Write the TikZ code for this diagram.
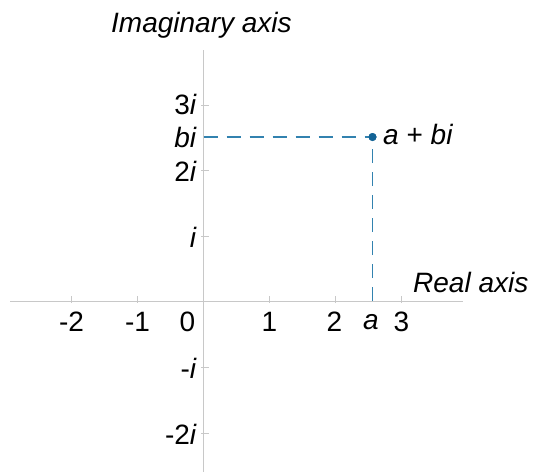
\documentclass[tikz,border=0pt]{standalone}
\usepackage{fontspec}
\setmainfont{Liberation Sans}
\definecolor{axisgray}{RGB}{200,200,200}
\definecolor{dashblue}{RGB}{50,130,175}
\definecolor{dotblue}{RGB}{20,100,150}
\begin{document}
\begin{tikzpicture}[x=1pt,y=-1pt,
  axisline/.style={draw=axisgray,line width=1pt},
  tickmark/.style={draw=axisgray,line width=0.8pt},
  lbl/.style={font=\fontsize{28}{28}\selectfont,inner sep=0pt},
  guide/.style={draw=dashblue,line width=1.3pt,dash pattern=on 14pt off 9pt}]
\useasboundingbox (0,0) rectangle (534,474);
% axes
\coordinate (xl) at (10,301);
\coordinate (xr) at (463,301);
\coordinate (yt) at (203.5,50);
\coordinate (yb) at (203.5,472);
\draw[axisline] (xl) -- (xr);
\draw[axisline] (yt) -- (yb);
% ticks on real axis
\foreach \x in {71.5,137.5,269.5,335.5,401.5}{
  \draw[tickmark] (\x,296) -- (\x,303);
}
% ticks on imaginary axis
\foreach \y in {105,170,236,367,433}{
  \draw[tickmark] (201,\y) -- (209,\y);
}
% real labels
\node[lbl] (lm2) at (71.5,322) {-2};
\node[lbl] (lm1) at (137.5,322) {-1};
\node[lbl] (l0) at (187.5,322) {0};
\node[lbl] (l1) at (269.5,322) {1};
\node[lbl] (l2) at (334.5,322) {2};
\node[lbl] (la) at (371,322) {\itshape a};
\node[lbl] (l3) at (401.5,322) {3};
% imaginary labels
\node[lbl,anchor=east] (i3) at (197,104) {3\textit{i}};
\node[lbl,anchor=east] (ib) at (197,137) {\textit{bi}};
\node[lbl,anchor=east] (i2) at (197,171) {2\textit{i}};
\node[lbl,anchor=east] (i1) at (197,237) {\textit{i}};
\node[lbl,anchor=east] (im1) at (197,368) {-\textit{i}};
\node[lbl,anchor=east] (im2) at (197,434) {-2\textit{i}};
% axis titles
\node[lbl,anchor=west] (imag) at (111,25) {\itshape Imaginary axis};
\node[lbl,anchor=west] (real) at (413,282) {\itshape Real axis};
% point
\coordinate (yb0) at (203.5,137);
\coordinate (xa0) at (372.5,301);
\node[circle,fill=dotblue,inner sep=0pt,minimum size=8pt] (pt) at (372.5,137) {};
\draw[guide] (yb0) -- (pt.center);
\draw[guide] (xa0) -- (pt.center);
\node[circle,fill=dotblue,inner sep=0pt,minimum size=8pt] at (pt) {};
\node[lbl,anchor=west] (plbl) at (383,134) {\textit{a} + \textit{bi}};
\end{tikzpicture}
\end{document}
